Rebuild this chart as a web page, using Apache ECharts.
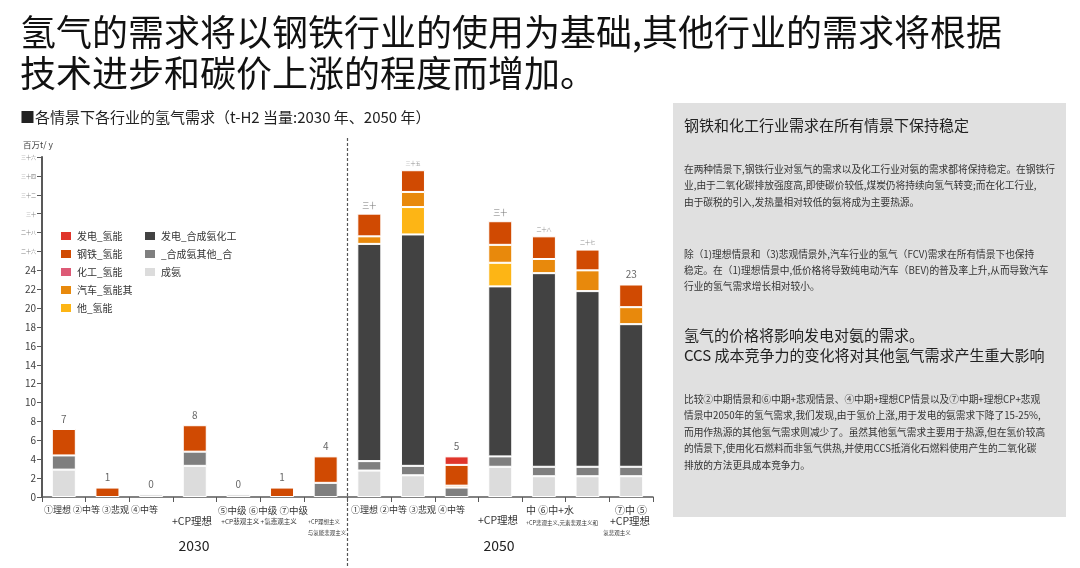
<!DOCTYPE html>
<html>
<head>
	<meta charset="UTF-8">
	<title>氢气需求</title>
	<script src="https://cdn.jsdelivr.net/npm/echarts@6/dist/echarts.min.js"></script>
	<style>
		html, body { margin: 0; padding: 0; background: #fff; }
		#main { width: 1080px; height: 568px; }
	</style>
</head>
<body>
<div id="main"></div>
<script>
	// 14 categories: 7 scenarios for 2030, 7 for 2050
	var categories = ['30-1', '30-2', '30-3', '30-4', '30-5', '30-6', '30-7',
		'50-1', '50-2', '50-3', '50-4', '50-5', '50-6', '50-7'];

	// stack values, bottom to top (million t/y)
	var ammoniaLight = [2.9, 0, 0.3, 3.3, 0.3, 0, 0, 2.8, 2.3, 0, 3.2, 2.2, 2.2, 2.2];
	var ammoniaOther = [1.5, 0, 0, 1.5, 0, 0, 1.5, 1.0, 1.0, 1.0, 1.1, 1.0, 1.0, 1.0];
	var ammoniaPower = [0, 0, 0, 0, 0, 0, 0, 23.0, 24.5, 0, 18.0, 20.5, 18.6, 15.1];
	var otherH2 = [0, 0, 0, 0, 0, 0, 0, 0, 2.9, 0, 2.5, 0, 0, 0];
	var carH2 = [0, 0, 0, 0, 0, 0, 0, 0.8, 1.6, 0.2, 1.9, 1.5, 2.2, 1.8];
	var chemH2 = [0, 0, 0, 0, 0, 0, 0, 0, 0, 0, 0, 0, 0, 0];
	var steelH2 = [2.8, 1.0, 0, 2.8, 0, 1.0, 2.8, 2.4, 2.3, 2.2, 2.5, 2.4, 2.2, 2.4];
	var powerH2 = [0, 0, 0, 0, 0, 0, 0, 0, 0, 0.9, 0, 0, 0, 0];

	var topLabels = ['7', '1', '0', '8', '0', '1', '4',
		'三十', '三十五', '5', '三十', '二十八', '二十七', '23'];

	var yTickLabels = ['0', '2', '4', '6', '8', '10', '12', '14', '16', '18', '20', '22', '24',
		'二十六', '二十八', '三十', '三十二', '三十四', '三十六'];

	var legendLeft = ['发电_氢能', '钢铁_氢能', '化工_氢能', '汽车_氢能其', '他_氢能'];
	var legendRight = ['发电_合成氨化工', '_合成氨其他_合', '成氨'];

	var xLabels = ['①理想 ②中等 ③悲观 ④中等', '+CP理想', '⑤中级 ⑥中级 ⑦中级',
		'+CP悲观主义 +氢悲观主义', '+CP理想主义', '与氢能悲观主义',
		'①理想 ②中等 ③悲观 ④中等', '+CP理想', '中 ⑥中+水',
		'+CP悲观主义,元素悲观主义和', '氢悲观主义', '⑦中 ⑤', '+CP理想'];
	var years = ['2030', '2050'];

	var titleLines = ['氢气的需求将以钢铁行业的使用为基础,其他行业的需求将根据', '技术进步和碳价上涨的程度而增加。'];
	var chartTitle = '■各情景下各行业的氢气需求（t-H2 当量:2030 年、2050 年）';
	var unitLabel = '百万t/ y';

	var panelHead1 = '钢铁和化工行业需求在所有情景下保持稳定';
	var panelP1 = ['在两种情景下,钢铁行业对氢气的需求以及化工行业对氨的需求都将保持稳定。在钢铁行',
		'业,由于二氧化碳排放强度高,即使碳价较低,煤炭仍将持续向氢气转变;而在化工行业,',
		'由于碳税的引入,发热量相对较低的氨将成为主要热源。'];
	var panelP2 = ['除（1)理想情景和（3)悲观情景外,汽车行业的氢气（FCV)需求在所有情景下也保持',
		'稳定。在（1)理想情景中,低价格将导致纯电动汽车（BEV)的普及率上升,从而导致汽车',
		'行业的氢气需求增长相对较小。'];
	var panelHead2 = ['氢气的价格将影响发电对氨的需求。', 'CCS 成本竞争力的变化将对其他氢气需求产生重大影响'];
	var panelP3 = ['比较②中期情景和⑥中期+悲观情景、④中期+理想CP情景以及⑦中期+理想CP+悲观',
		'情景中2050年的氢气需求,我们发现,由于氢价上涨,用于发电的氨需求下降了15-25%,',
		'而用作热源的其他氢气需求则减少了。虽然其他氢气需求主要用于热源,但在氢价较高',
		'的情景下,使用化石燃料而非氢气供热,并使用CCS抵消化石燃料使用产生的二氧化碳',
		'排放的方法更具成本竞争力。'];

	var FONT = '"Noto Sans CJK SC", "Noto Sans", sans-serif';

	function nz(arr) {
		return arr.map(function (v) { return v === 0 ? null : v; });
	}

	var totals = categories.map(function (c, i) {
		return ammoniaLight[i] + ammoniaOther[i] + ammoniaPower[i] + otherH2[i] +
			carH2[i] + chemH2[i] + steelH2[i] + powerH2[i];
	});

	function barSeries(name, data, color) {
		return {
			name: name,
			type: 'bar',
			stack: 'total',
			barWidth: 24,
			data: nz(data),
			itemStyle: { color: color, borderColor: '#fff', borderWidth: 1 }
		};
	}

	function txt(text, x, y, size, opt) {
		opt = opt || {};
		return {
			type: 'text',
			z: 10,
			style: {
				text: text,
				x: x,
				y: y,
				fontSize: size,
				fontFamily: FONT,
				fontWeight: opt.weight || 'normal',
				fill: opt.color || '#333',
				textAlign: opt.align || 'left',
				textVerticalAlign: 'middle'
			}
		};
	}

	var graphics = [];
	graphics.push({
		type: 'rect', z: 1,
		shape: { x: 673, y: 103, width: 393, height: 414 },
		style: { fill: '#e0e0e0' }
	});
	graphics.push(txt(titleLines[0], 20, 32, 36, { color: '#111' }));
	graphics.push(txt(titleLines[1], 20, 73, 36, { color: '#111' }));
	graphics.push(txt(chartTitle, 20, 117, 15, { color: '#222' }));
	graphics.push(txt(unitLabel, 23, 145, 8.5, { color: '#444' }));

	// x axis labels (scattered as in the source)
	graphics.push(txt(xLabels[0], 101, 510, 9, { align: 'center' }));
	graphics.push(txt(xLabels[1], 192, 521, 10.5, { align: 'center' }));
	graphics.push(txt(xLabels[2], 263, 510, 9.5, { align: 'center' }));
	graphics.push(txt(xLabels[3], 259, 522, 6.5, { align: 'center' }));
	graphics.push(txt(xLabels[4], 324, 522, 5.5, { align: 'center' }));
	graphics.push(txt(xLabels[5], 327, 533, 5.5, { align: 'center' }));
	graphics.push(txt(xLabels[6], 408, 510, 9, { align: 'center' }));
	graphics.push(txt(xLabels[7], 498, 520, 10.5, { align: 'center' }));
	graphics.push(txt(xLabels[8], 550, 510, 10, { align: 'center' }));
	graphics.push(txt(xLabels[9], 562, 523, 5.5, { align: 'center' }));
	graphics.push(txt(xLabels[10], 617, 533, 5.5, { align: 'center' }));
	graphics.push(txt(xLabels[11], 631, 510, 10, { align: 'center' }));
	graphics.push(txt(xLabels[12], 630, 521, 10.5, { align: 'center' }));
	graphics.push(txt(years[0], 194, 546, 14, { align: 'center', color: '#222' }));
	graphics.push(txt(years[1], 499, 546, 14, { align: 'center', color: '#222' }));

	// right panel
	graphics.push(txt(panelHead1, 684, 125, 15, { color: '#222' }));
	panelP1.forEach(function (l, i) { graphics.push(txt(l, 684, 169 + i * 16.5, 9.7)); });
	panelP2.forEach(function (l, i) { graphics.push(txt(l, 684, 254 + i * 16.3, 9.7)); });
	panelHead2.forEach(function (l, i) { graphics.push(txt(l, 684, 335 + i * 20, 15, { color: '#222' })); });
	panelP3.forEach(function (l, i) { graphics.push(txt(l, 684, 399 + i * 16.5, 9.7)); });

	var myChart = echarts.init(document.getElementById('main'));

	var legendCommon = {
		orient: 'vertical',
		top: 225,
		itemWidth: 12,
		itemHeight: 10,
		itemGap: 6,
		icon: 'rect',
		selectedMode: false,
		textStyle: { fontSize: 10, color: '#333', fontFamily: FONT }
	};

	var option = {
		animation: false,
		backgroundColor: '#fff',
		textStyle: { fontFamily: FONT },
		legend: [
			Object.assign({ data: legendLeft, left: 54 }, legendCommon),
			Object.assign({ data: legendRight, left: 138 }, legendCommon)
		],
		grid: { left: 42, right: 427, top: 157, bottom: 71, containLabel: false },
		xAxis: {
			type: 'category',
			data: categories,
			axisLine: { lineStyle: { color: '#595959', width: 1.5 } },
			axisTick: { show: true, interval: 0, length: 5, lineStyle: { color: '#595959' } },
			axisLabel: { show: false }
		},
		yAxis: {
			type: 'value',
			min: 0,
			max: 36,
			interval: 2,
			splitLine: { show: false },
			axisLine: { show: true, lineStyle: { color: '#595959', width: 2 } },
			axisTick: { show: true, length: 5, lineStyle: { color: '#595959' } },
			axisLabel: {
				margin: 6,
				fontSize: 10,
				color: '#404040',
				formatter: function (v) {
					var t = yTickLabels[Math.round(v / 2)];
					return /\d/.test(t) ? t : '{cn|' + t + '}';
				},
				rich: { cn: { fontSize: 5, color: '#888' } }
			}
		},
		series: [
			barSeries('成氨', ammoniaLight, '#dcdcdc'),
			barSeries('_合成氨其他_合', ammoniaOther, '#7f7f7f'),
			barSeries('发电_合成氨化工', ammoniaPower, '#424242'),
			barSeries('他_氢能', otherH2, '#fdb515'),
			barSeries('汽车_氢能其', carH2, '#e8890c'),
			barSeries('化工_氢能', chemH2, '#dd5a76'),
			barSeries('钢铁_氢能', steelH2, '#d04a02'),
			barSeries('发电_氢能', powerH2, '#e0352b'),
			{
				name: 'totals',
				type: 'scatter',
				symbolSize: 0,
				data: totals,
				silent: true,
				label: {
					show: true,
					position: 'top',
					distance: 5,
					fontSize: 10,
					color: '#404040',
					formatter: function (p) {
						var t = topLabels[p.dataIndex];
						if (/\d/.test(t)) return t;
						return t.length === 2 ? '{m|' + t + '}' : '{s|' + t + '}';
					},
					rich: {
						m: { fontSize: 7, color: '#555' },
						s: { fontSize: 5, color: '#777' }
					}
				}
			}
		],
		graphic: graphics
	};

	myChart.setOption(option);

	// dashed separator between 2030 and 2050 groups
	var x6 = myChart.convertToPixel({ xAxisIndex: 0 }, categories[6]);
	var x7 = myChart.convertToPixel({ xAxisIndex: 0 }, categories[7]);
	var xs = (x6 + x7) / 2;
	graphics.push({
		type: 'line', z: 5,
		shape: { x1: xs, y1: 138, x2: xs, y2: 568 },
		style: { stroke: '#555', lineWidth: 1.2, lineDash: [3, 2] }
	});
	myChart.setOption({ graphic: graphics });
</script>
</body>
</html>
